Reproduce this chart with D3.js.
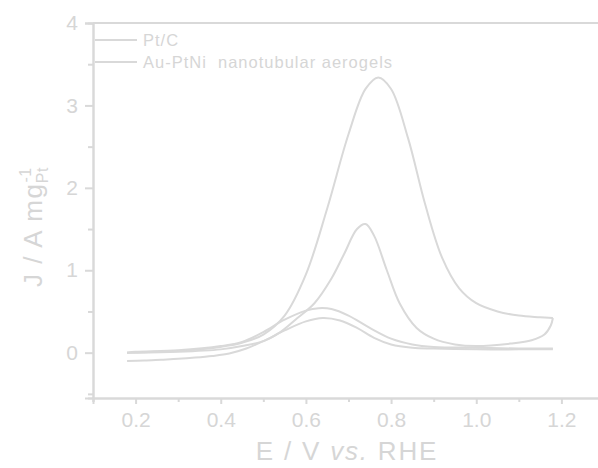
<!DOCTYPE html>
<html>
<head>
<meta charset="utf-8">
<script src="https://cdn.jsdelivr.net/npm/d3@7"></script>
<style>
  html, body { margin: 0; padding: 0; background: #fff; }
  text { font-family: Arial, "Liberation Sans", sans-serif; }
</style>
</head>
<body>
<div id="chart"></div>
<script>
// 图例名称
const seriesNames = ['Pt/C', 'Au-PtNi  nanotubular aerogels']

// 刻度
const xTicks = [0.2, 0.4, 0.6, 0.8, 1.0, 1.2]
const xMinor = [0.1, 0.3, 0.5, 0.7, 0.9, 1.1, 1.3]
const yTicks = [0, 1, 2, 3, 4]
const yMinor = [-0.5, 0.5, 1.5, 2.5, 3.5]

// Pt/C 正扫
const ptFwdE = [0.18, 0.22, 0.26, 0.3, 0.34, 0.38, 0.42, 0.46, 0.5, 0.55, 0.6, 0.64, 0.68, 0.72, 0.76, 0.8, 0.85, 0.9, 1.0, 1.1, 1.18]
const ptFwdJ = [-0.1, -0.095, -0.085, -0.075, -0.06, -0.04, -0.01, 0.05, 0.14, 0.27, 0.38, 0.42, 0.39, 0.3, 0.18, 0.1, 0.06, 0.05, 0.04, 0.04, 0.04]
// Pt/C 回扫
const ptRevE = [1.18, 1.1, 1.0, 0.9, 0.85, 0.8, 0.75, 0.7, 0.66, 0.63, 0.6, 0.55, 0.5, 0.45, 0.4, 0.3, 0.2, 0.18]
const ptRevJ = [0.05, 0.05, 0.06, 0.07, 0.1, 0.17, 0.3, 0.45, 0.53, 0.54, 0.51, 0.4, 0.25, 0.13, 0.08, 0.03, 0.01, 0.0]

// Au-PtNi 正扫
const auFwdE = [0.18, 0.25, 0.3, 0.35, 0.4, 0.45, 0.5, 0.55, 0.6, 0.65, 0.7, 0.74, 0.77, 0.8, 0.84, 0.88, 0.92, 0.96, 1.0, 1.05, 1.1, 1.15, 1.18]
const auFwdJ = [0.0, 0.01, 0.02, 0.04, 0.07, 0.12, 0.22, 0.45, 0.95, 1.75, 2.65, 3.2, 3.34, 3.2, 2.6, 1.8, 1.15, 0.78, 0.6, 0.5, 0.45, 0.43, 0.42]
// Au-PtNi 回扫
const auRevE = [1.18, 1.175, 1.16, 1.13, 1.08, 1.0, 0.95, 0.9, 0.86, 0.82, 0.79, 0.76, 0.74, 0.72, 0.69, 0.66, 0.62, 0.58, 0.54, 0.5, 0.45, 0.4, 0.3, 0.2, 0.18]
const auRevJ = [0.42, 0.33, 0.22, 0.15, 0.11, 0.08, 0.1, 0.17, 0.3, 0.6, 1.0, 1.42, 1.56, 1.5, 1.2, 0.9, 0.6, 0.42, 0.25, 0.14, 0.08, 0.04, 0.01, 0.0, 0.0]

const width = 598
const height = 468
const grey = '#d9d9d9'
const textGrey = '#d6d6d6'

const svg = d3.select('#chart')
  .append('svg')
  .attr('width', width)
  .attr('height', height)

const x = d3.scaleLinear().domain([0.1, 1.3]).range([93, 604])
const y = d3.scaleLinear().domain([-0.55, 4]).range([398, 23])

// 坐标轴
const xAxis = svg.append('g').attr('transform', 'translate(0,' + y(-0.55) + ')')
xAxis.call(d3.axisBottom(x).tickValues(xTicks).tickSize(6).tickPadding(8).tickFormat(d3.format('.1f')))
xAxis.append('g').call(d3.axisBottom(x).tickValues(xMinor).tickSize(4).tickFormat(''))

const yAxis = svg.append('g').attr('transform', 'translate(' + x(0.1) + ',0)')
yAxis.call(d3.axisLeft(y).tickValues(yTicks).tickSize(8).tickPadding(7).tickFormat(d3.format('d')))
yAxis.append('g').call(d3.axisLeft(y).tickValues(yMinor).tickSize(5).tickFormat(''))

svg.selectAll('.domain').attr('stroke', grey).attr('stroke-width', 2)
svg.selectAll('.tick line').attr('stroke', grey).attr('stroke-width', 2)
svg.selectAll('.tick text')
  .attr('fill', textGrey)
  .attr('font-size', 21)

// 顶部边框
svg.append('line')
  .attr('x1', x(0.1)).attr('x2', width)
  .attr('y1', y(4)).attr('y2', y(4))
  .attr('stroke', grey).attr('stroke-width', 2)

// 曲线
const line = d3.line()
  .x(d => x(d[0]))
  .y(d => y(d[1]))
  .curve(d3.curveCatmullRom.alpha(0.5))

const curves = [
  [ptFwdE, ptFwdJ], [ptRevE, ptRevJ],
  [auFwdE, auFwdJ], [auRevE, auRevJ]
]
curves.forEach(c => {
  svg.append('path')
    .datum(c[0].map((e, i) => [e, c[1][i]]))
    .attr('d', line)
    .attr('fill', 'none')
    .attr('stroke', grey)
    .attr('stroke-width', 2)
})

// 图例
seriesNames.forEach((name, i) => {
  const ly = 40 + i * 22
  svg.append('line')
    .attr('x1', 95).attr('x2', 137)
    .attr('y1', ly).attr('y2', ly)
    .attr('stroke', grey).attr('stroke-width', 2)
  svg.append('text')
    .attr('x', 143).attr('y', ly + 5.5)
    .attr('font-size', 16.5)
    .attr('letter-spacing', '1px')
    .attr('fill', textGrey)
    .style('white-space', 'pre')
    .text(name)
})

// 轴标题
svg.append('text')
  .attr('x', 347).attr('y', 460)
  .attr('text-anchor', 'middle')
  .attr('font-size', 26)
  .attr('letter-spacing', '1.8px')
  .attr('fill', textGrey)
  .html('E / V <tspan font-style="italic">vs.</tspan> RHE')

svg.append('text')
  .attr('transform', 'translate(42,287) rotate(-90)')
  .attr('font-size', 26)
  .attr('letter-spacing', '1.5px')
  .attr('fill', textGrey)
  .html('J / A mg<tspan dy="-11" font-size="16" letter-spacing="0.5px">-1</tspan><tspan dy="17" dx="-16" font-size="16" letter-spacing="0.5px">Pt</tspan>')
</script>
</body>
</html>
